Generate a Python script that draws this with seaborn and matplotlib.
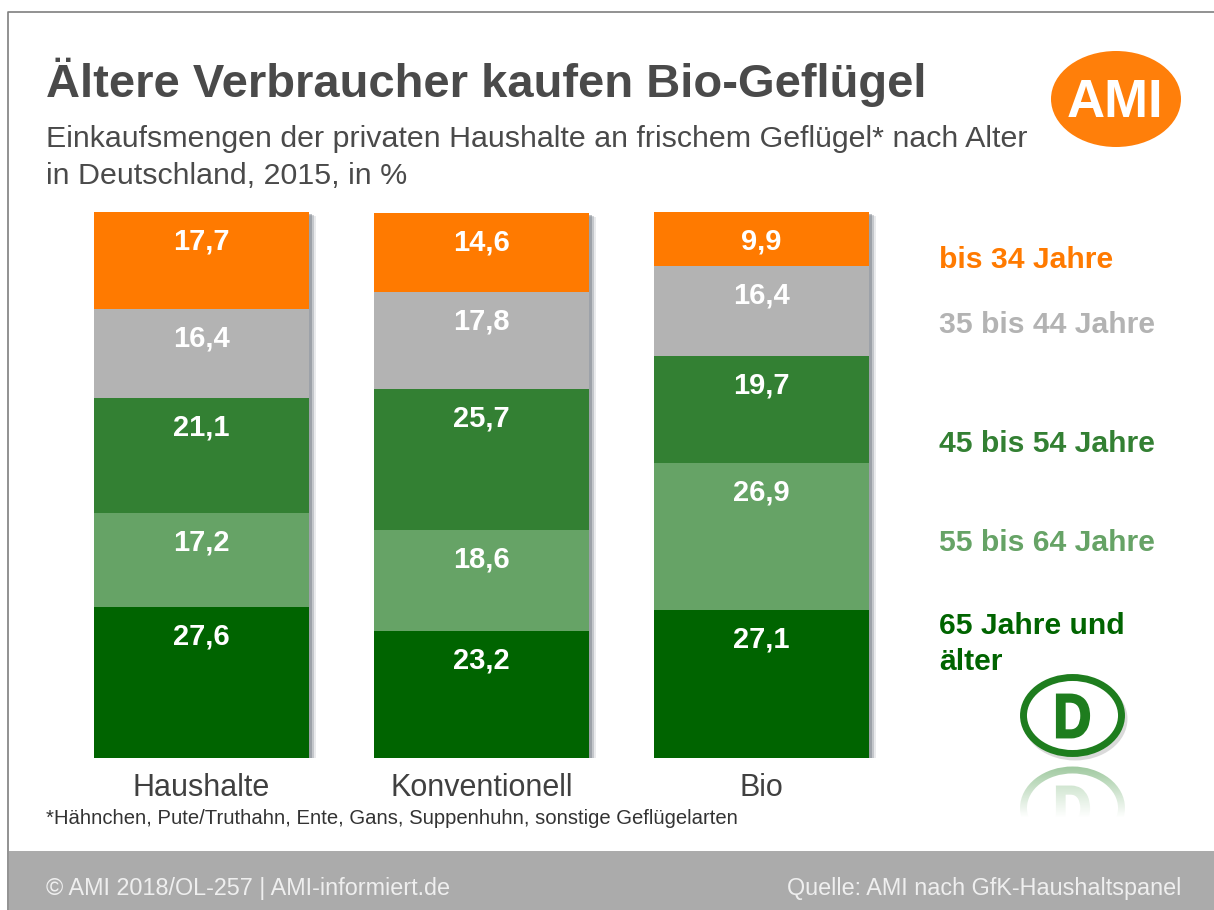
import numpy as np
import pandas as pd
import matplotlib
matplotlib.use("Agg")
import matplotlib.pyplot as plt
import matplotlib.patheffects as pe
from matplotlib.patches import Ellipse, PathPatch, Rectangle
from matplotlib.textpath import TextPath
from matplotlib.font_manager import FontProperties
from matplotlib.transforms import Affine2D
import seaborn as sns

categories = ["Haushalte", "Konventionell", "Bio"]
age_groups = ["älter", "65 Jahre und", "55 bis 64 Jahre", "45 bis 54 Jahre", "35 bis 44 Jahre", "bis 34 Jahre"]
v_65 = [27.6, 23.2, 27.1]
v_55 = [17.2, 18.6, 26.9]
v_45 = [21.1, 25.7, 19.7]
v_35 = [16.4, 17.8, 16.4]
v_34 = [17.7, 14.6, 9.9]
series = [v_65, v_55, v_45, v_35, v_34]
colors = ["#006400", "#66A366", "#338033", "#B3B3B3", "#FF7A00"]
legend_colors = ["#006400", "#006400", "#66A366", "#338033", "#B3B3B3", "#FF7A00"]
legend_y = [662, 626, 543, 444, 325, 260]

title = "Ältere Verbraucher kaufen Bio-Geflügel"
subtitle_1 = "Einkaufsmengen der privaten Haushalte an frischem Geflügel* nach Alter"
subtitle_2 = "in Deutschland, 2015, in %"
footnote = "*Hähnchen, Pute/Truthahn, Ente, Gans, Suppenhuhn, sonstige Geflügelarten"
foot_left = "© AMI 2018/OL-257 | AMI-informiert.de"
foot_right = "Quelle: AMI nach GfK-Haushaltspanel"

sns.set_theme(style="white")
plt.rcParams["font.family"] = ["Liberation Sans", "DejaVu Sans"]
W, H = 1214, 910
fig = plt.figure(figsize=(W / 100, H / 100), dpi=100, facecolor="white")

# page layer in pixel coordinates
bg = fig.add_axes([0, 0, 1, 1], zorder=0)
bg.set_xlim(0, W); bg.set_ylim(H, 0); bg.axis("off")
bg.plot([8, 8, W], [H, 12, 12], color="#7f7f7f", lw=1.2)
bg.add_patch(Rectangle((9, 851), W - 9, 59, fc="#ABABAB", ec="none"))
TXT = "#4A4A4A"
bg.text(46, 82, title, fontsize=33.9, fontweight="bold", color=TXT, va="center")
bg.text(46, 139, subtitle_1, fontsize=21.85, color=TXT, va="center")
bg.text(46, 176, subtitle_2, fontsize=21.85, color=TXT, va="center")
bg.text(46, 819, footnote, fontsize=14.6, color="#333333", va="center")
bg.text(46, 889, foot_left, fontsize=16.8, color="#EFEFEF", va="center")
bg.text(1181, 889, foot_right, fontsize=16.8, color="#EFEFEF", va="center", ha="right")

# AMI logo
bg.add_patch(Ellipse((1116, 99), 130, 96, fc="#FF7F0A", ec="none"))
bg.text(1115, 103, "AMI", fontsize=38, fontweight="bold", color="white", ha="center", va="center")

# D logo with shadow and reflection
GR = "#1E7D1E"
fp = FontProperties(family="Liberation Sans", weight="bold", size=10)
def d_patch(cx, cy, flip, **kw):
    tp = TextPath((0, 0), "D", prop=fp, size=62)
    bb = tp.get_extents()
    tr = Affine2D().translate(-(bb.x0 + bb.x1) / 2, -(bb.y0 + bb.y1) / 2).scale(.84, 1 if flip else -1).translate(cx, cy)
    return PathPatch(tr.transform_path(tp), **kw)
bg.add_patch(Ellipse((1075, 719), 98, 76, fc="none", ec="#BDBDBD", lw=5, alpha=.55))
bg.add_patch(Ellipse((1072.5, 715.5), 98, 76, fc="white", ec=GR, lw=5))
bg.add_patch(d_patch(1073, 716, False, fc=GR, ec=GR, lw=1.6))
bg.add_patch(Ellipse((1072.5, 808), 98, 76, fc="none", ec="#8FC08F", lw=5))
bg.add_patch(d_patch(1073, 808, True, fc="#A9D0A9", ec="#A9D0A9", lw=1.6))
fade = np.ones((90, 2, 4))
fade[..., 3] = np.clip(np.linspace(0.05, 1.55, 90), 0, 1)[:, None]
bg.imshow(fade, extent=(1005, 1140, 850, 760), aspect="auto", zorder=5, interpolation="bilinear")
bg.set_xlim(0, W); bg.set_ylim(H, 0)

# legend labels
for lab, col, y in zip(age_groups, legend_colors, legend_y):
    bg.text(939, y, lab, fontsize=21.7, fontweight="bold", color=col, va="center")

# stacked bars
ax = fig.add_axes([(94 - 32.5) / W, 1 - 758 / H, 840 / W, (758 - 212) / H], zorder=2)
ax.patch.set_alpha(0)
df = pd.DataFrame({"cat": categories})
tot = np.sum(series, axis=0)
bw = 215 / 280
sns.barplot(data=df.assign(v=tot), x="cat", y="v", color="#888888", width=bw, saturation=1,
            linewidth=0, ax=ax, zorder=1)
for p in list(ax.patches):
    p.set_path_effects([pe.SimplePatchShadow(offset=(o, -o * .6), shadow_rgbFace="#6F7780", alpha=a)
                        for o, a in [(5, .15), (3.6, .3), (2.4, .45)]] + [pe.Normal()])
bottom = np.zeros(3)
for vals, col in zip(series, colors):
    sns.barplot(data=df.assign(v=vals), x="cat", y="v", color=col, width=bw, saturation=1,
                bottom=bottom, linewidth=0, ax=ax, zorder=2)
    for i, v in enumerate(vals):
        ax.annotate(f"{v:.1f}".replace(".", ","), (i, bottom[i] + v), xytext=(0, -29.5 * .72),
                    textcoords="offset points", ha="center", va="center", color="white",
                    fontsize=21, fontweight="bold", zorder=4)
    bottom = bottom + np.array(vals)
ax.set_xlim(-0.5, 2.5)
ax.set_ylim(0, 100)
ax.set(xlabel="", ylabel="", yticks=[])
ax.tick_params(axis="x", length=0, labelsize=22, pad=10.5, labelcolor="#404040")
sns.despine(ax=ax, left=True, bottom=True)

fig.savefig("out.png", dpi=100, facecolor="white")
